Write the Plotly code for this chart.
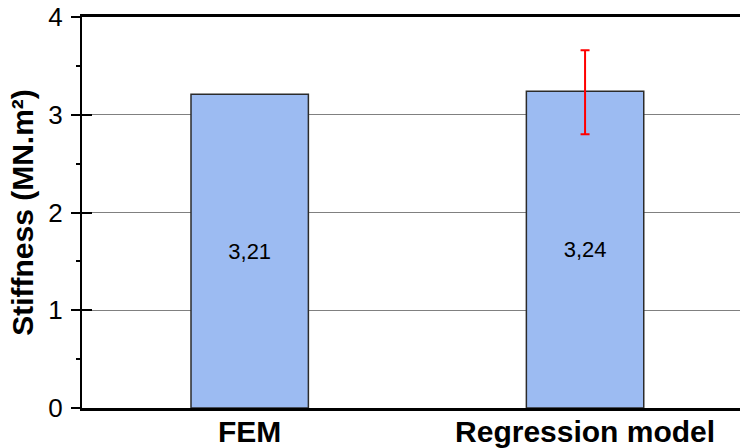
import plotly.graph_objects as go

# Stiffness comparison: finite element model vs. regression model
categories = ["FEM", "Regression model"]
stiffness = [3.21, 3.24]
err_plus = 0.42      # regression model only
err_minus = 0.44
value_labels = ["3,21", "3,24"]
y_ticks = [0, 1, 2, 3, 4]

FONT = "Liberation Sans, Arial, sans-serif"
BAR_STYLE = dict(color="#9CBBF2", line=dict(color="#2b2b2b", width=1.5))
LABEL_FONT = dict(family=FONT, size=22, color="black")

fig = go.Figure()
# FEM bar (no scatter band)
fig.add_trace(go.Bar(
    x=categories[:1], y=stiffness[:1], width=0.35,
    marker=BAR_STYLE, text=value_labels[:1],
    textposition="inside", insidetextanchor="middle", textangle=0,
    textfont=LABEL_FONT, showlegend=False,
))
# Regression-model bar with its error band, on the twin y axis
fig.add_trace(go.Bar(
    x=categories[1:], y=stiffness[1:], width=0.35,
    marker=BAR_STYLE, text=value_labels[1:],
    textposition="inside", insidetextanchor="middle", textangle=0,
    textfont=LABEL_FONT, showlegend=False, yaxis="y2",
    error_y=dict(type="data", symmetric=False, array=[err_plus],
                 arrayminus=[err_minus], color="red", thickness=2, width=4.5),
))

fig.update_layout(
    width=740, height=448,
    margin=dict(l=82, r=0, t=17, b=40, pad=0),
    paper_bgcolor="white", plot_bgcolor="white",
    font=dict(family=FONT, color="black"),
    xaxis=dict(
        range=[-0.5, 1.462],
        categoryorder="array", categoryarray=categories,
        showline=True, linecolor="black", linewidth=2.5, mirror=True,
        ticks="", showgrid=False, zeroline=False, automargin=False,
        tickfont=dict(family=FONT, size=30, color="black", weight="bold"),
        ticklabelstandoff=-5,
    ),
    yaxis=dict(
        range=[0, 4],
        tickvals=y_ticks,
        showline=True, linecolor="black", linewidth=2,
        ticks="outside", ticklen=9, tickwidth=2, tickcolor="black",
        minor=dict(ticks="outside", ticklen=4, tickwidth=1.5,
                   tickcolor="black", dtick=0.5, showgrid=False),
        showgrid=True, gridcolor="#808080", gridwidth=1,
        zeroline=False, automargin=False,
        tickfont=dict(family=FONT, size=26, color="black"),
        ticklabelstandoff=3,
        title=dict(text="<b>Stiffness (MN.m²)</b>",
                   font=dict(family=FONT, size=30, color="black"),
                   standoff=6),
    ),
    # twin axis carrying the inward half of the major ticks
    yaxis2=dict(
        range=[0, 4], tickvals=y_ticks, overlaying="y", side="left",
        anchor="x", showticklabels=False, showgrid=False, zeroline=False,
        showline=False, ticks="inside", ticklen=10, tickwidth=2,
        tickcolor="black", automargin=False,
    ),
)

fig.write_html("out.html")
